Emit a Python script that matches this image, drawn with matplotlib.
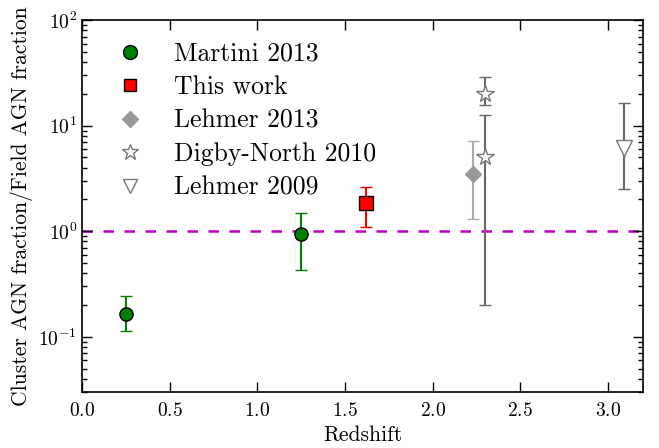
import matplotlib
matplotlib.use("Agg")
import matplotlib.pyplot as plt
from matplotlib.lines import Line2D

plt.rcParams['font.family'] = 'serif'
plt.rcParams['font.serif'] = ['cmr10', 'DejaVu Serif']
plt.rcParams['mathtext.fontset'] = 'cm'
plt.rcParams['axes.formatter.use_mathtext'] = True
plt.rcParams['axes.unicode_minus'] = False

# Martini 2013
mart_z = [0.25, 1.25]
mart_y = [0.165, 0.94]
mart_lo = [0.114, 0.43]
mart_hi = [0.244, 1.48]

# This work
this_z = [1.62]
this_y = [1.84]
this_lo = [1.09]
this_hi = [2.6]

# Lehmer 2013
l13_z = [2.23]
l13_y = [3.45]
l13_lo = [1.3]
l13_hi = [7.2]

# Digby-North 2010
dn_z = [2.3, 2.3]
dn_y = [20.0, 5.0]
dn_lo = [15.8, 0.2]
dn_hi = [29.0, 12.7]

# Lehmer 2009
l09_z = [3.09]
l09_y = [6.2]
l09_lo = [2.5]
l09_hi = [16.5]


def errs(y, lo, hi):
    return [[a - b for a, b in zip(y, lo)], [b - a for a, b in zip(y, hi)]]


fig = plt.figure(figsize=(6.59, 4.48), dpi=100)
ax = fig.add_axes([0.1244, 0.125, 0.8513, 0.830])

ax.axhline(1.0, color='m', ls='--', lw=1.8, dashes=(4.2, 4.2), zorder=1)

ax.errorbar(mart_z, mart_y, yerr=errs(mart_y, mart_lo, mart_hi), fmt='o',
            mfc='green', mec='black', ms=9.5, capsize=4, ecolor='green')
ax.errorbar(this_z, this_y, yerr=errs(this_y, this_lo, this_hi), fmt='s',
            mfc='red', mec='black', ms=9.5, capsize=4, ecolor='red')
ax.errorbar(l13_z, l13_y, yerr=errs(l13_y, l13_lo, l13_hi), fmt='D',
            mfc='#999999', mec='#999999', ms=8, capsize=4, ecolor='#aaaaaa')
ax.errorbar(dn_z, dn_y, yerr=errs(dn_y, dn_lo, dn_hi), fmt='*',
            mfc='white', mec='#777777', ms=13, capsize=4, ecolor='#666666')
ax.errorbar(l09_z, l09_y, yerr=errs(l09_y, l09_lo, l09_hi), fmt='v',
            mfc='white', mec='#777777', ms=12, capsize=4, ecolor='#666666')

handles = [
    Line2D([], [], ls='none', marker='o', mfc='green', mec='black', ms=10),
    Line2D([], [], ls='none', marker='s', mfc='red', mec='black', ms=9),
    Line2D([], [], ls='none', marker='D', mfc='#999999', mec='#999999', ms=8),
    Line2D([], [], ls='none', marker='*', mfc='white', mec='#777777', ms=12),
    Line2D([], [], ls='none', marker='v', mfc='white', mec='#777777', ms=10),
]
labels = ['Martini 2013', 'This work', 'Lehmer 2013', 'Digby-North 2010', 'Lehmer 2009']

ax.set_yscale('log')
ax.set_xlim(0, 3.2)
ax.set_ylim(0.03, 100)
ax.set_xlabel('Redshift', fontsize=15.5)
ax.set_ylabel('Cluster AGN fraction/Field AGN fraction', fontsize=15.5)
ax.tick_params(which='both', direction='in', top=True, right=True, labelsize=14)
ax.tick_params(which='major', length=7, width=1)
ax.tick_params(which='minor', length=3.5, width=1)
ax.tick_params(axis='x', pad=7)
for s in ax.spines.values():
    s.set_linewidth(1.2)

ax.legend(handles, labels, loc='upper left', numpoints=1, frameon=False, fontsize=18.5,
          handletextpad=0.75, labelspacing=0.38, borderaxespad=0.45)

fig.savefig('out.png', dpi=100)
